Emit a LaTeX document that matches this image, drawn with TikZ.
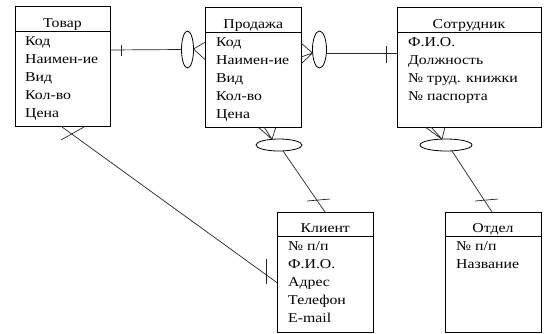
\documentclass[tikz,border=0pt]{standalone}
\usepackage{fontspec}
\setmainfont{Liberation Serif}[FakeStretch=1.17]
\usetikzlibrary{shapes.geometric}
\begin{document}
\begin{tikzpicture}[x=1pt,y=-1pt,
  box/.style={draw,line width=0.9pt,inner sep=0pt},
  hdr/.style={anchor=base,font=\fontsize{13.5}{13.5}\selectfont,inner sep=0pt},
  fld/.style={anchor=base west,font=\fontsize{13.5}{13.5}\selectfont,inner sep=0pt},
  lnk/.style={line width=0.7pt,draw=black!85},
  oval/.style={ellipse,draw,line width=0.8pt,inner sep=0pt}]
\useasboundingbox[fill=white] (0,0) rectangle (551,333);

% boxes
\node[box,minimum width=95pt,minimum height=120pt] (tovar) at (62.5,66) {};
\node[box,minimum width=95.5pt,minimum height=120pt] (prod) at (253.25,67) {};
\node[box,minimum width=144pt,minimum height=120pt] (sotr) at (469,67) {};
\node[box,minimum width=95.5pt,minimum height=120pt] (klient) at (325.25,272) {};
\node[box,minimum width=96pt,minimum height=120pt] (otdel) at (493,272) {};

% header separators
\draw[line width=0.9pt] (tovar.west |- 0,31) -- (tovar.east |- 0,31);
\draw[line width=0.9pt] (prod.west |- 0,32) -- (prod.east |- 0,32);
\draw[line width=0.9pt] (sotr.west |- 0,32) -- (sotr.east |- 0,32);
\draw[line width=0.9pt] (klient.west |- 0,236) -- (klient.east |- 0,236);
\draw[line width=0.9pt] (otdel.west |- 0,236) -- (otdel.east |- 0,236);

% headers
\node[hdr] (h1) at (62.5,27) {Товар};
\node[hdr] (h2) at (253.25,28) {Продажа};
\node[hdr] (h3) at (469,28) {Сотрудник};
\node[hdr] (h4) at (325.25,232) {Клиент};
\node[hdr] (h5) at (493,232) {Отдел};

% fields
\node[fld] (t1) at (25,45) {Код};
\node[fld] (t2) at (25,63) {Наимен-ие};
\node[fld] (t3) at (25,81) {Вид};
\node[fld] (t4) at (25,99) {Кол-во};
\node[fld] (t5) at (25,117) {Цена};

\node[fld] (p1) at (216,46) {Код};
\node[fld] (p2) at (216,64) {Наимен-ие};
\node[fld] (p3) at (216,82) {Вид};
\node[fld] (p4) at (216,100) {Кол-во};
\node[fld] (p5) at (216,118) {Цена};

\node[fld] (s1) at (408,46) {Ф.И.О.};
\node[fld] (s2) at (408,64) {Должность};
\node[fld] (s3) at (408,82) {№ труд. книжки};
\node[fld] (s4) at (408,100) {№ паспорта};

\node[fld] (k1) at (288,250) {№ п/п};
\node[fld] (k2) at (288,268) {Ф.И.О.};
\node[fld] (k3) at (288,286) {Адрес};
\node[fld] (k4) at (288,304) {Телефон};
\node[fld] (k5) at (288,322) {E-mail};

\node[fld] (o1) at (456,250) {№ п/п};
\node[fld] (o2) at (456,268) {Название};

% ellipses
\node[oval,minimum width=12pt,minimum height=37pt] (e1) at (187.5,49.5) {};
\node[oval,minimum width=14pt,minimum height=37pt] (e2) at (319.5,49.5) {};
\node[oval,minimum width=46pt,minimum height=12pt] (e3) at (279,145) {};
\node[oval,minimum width=52pt,minimum height=12pt] (e4) at (446,145) {};

% attachment coordinates
\coordinate (a1) at (110,50);
\coordinate (a1t) at (121,45); \coordinate (a1b) at (121,56);
\coordinate (f1) at (193.5,49);
\coordinate (f1a) at (205.5,42); \coordinate (f1b) at (205.5,60);

\coordinate (f2) at (312.5,53);
\coordinate (f2a) at (301,43); \coordinate (f2b) at (301,57); \coordinate (f2c) at (301,64);
\coordinate (a2) at (397,53);
\coordinate (a2t) at (386,46); \coordinate (a2b) at (386,63);

\coordinate (f3) at (272,139.2);
\coordinate (f3a) at (258,127); \coordinate (f3b) at (264,127); \coordinate (f3c) at (276,127);
\coordinate (g3) at (283,151);
\coordinate (a3) at (325,212);
\coordinate (a3t) at (307,201); \coordinate (a3b) at (330,199);

\coordinate (f4) at (442,139.2);
\coordinate (f4a) at (425,127); \coordinate (f4b) at (431,127); \coordinate (f4c) at (445,127);
\coordinate (g4) at (452,151);
\coordinate (a4) at (492,212);
\coordinate (a4t) at (475,201); \coordinate (a4b) at (498,199);

\coordinate (b5) at (62,127);
\coordinate (a5) at (277.5,283);
\coordinate (b5t) at (84,127); \coordinate (b5b) at (61,140);
\coordinate (a5t) at (266,259); \coordinate (a5b) at (266,284);

% connectors
\draw[lnk] (a1) -- (e1.west);
\draw[lnk] (a1t) -- (a1b);
\draw[lnk] (f1) -- (f1a) (f1) -- (f1b);

\draw[lnk] (f2a) -- (f2) (f2b) -- (f2) (f2c) -- (f2);
\draw[lnk] (e2.east |- a2) -- (a2);
\draw[lnk] (a2t) -- (a2b);

\draw[lnk] (f3a) -- (f3) (f3b) -- (f3) (f3c) -- (f3);
\draw[lnk] (g3) -- (a3);
\draw[lnk] (a3t) -- (a3b);

\draw[lnk] (f4a) -- (f4) (f4b) -- (f4) (f4c) -- (f4);
\draw[lnk] (g4) -- (a4);
\draw[lnk] (a4t) -- (a4b);

\draw[lnk] (b5) -- (a5);
\draw[lnk] (b5t) -- (b5b);
\draw[lnk] (a5t) -- (a5b);
\end{tikzpicture}
\end{document}
